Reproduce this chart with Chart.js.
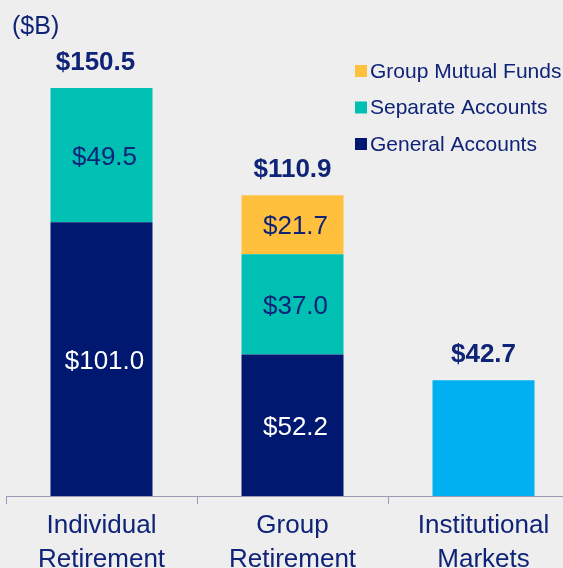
<!DOCTYPE html>
<html>
<head>
<meta charset="utf-8">
<script src="https://cdn.jsdelivr.net/npm/chart.js@4/dist/chart.umd.min.js"></script>
<style>
  html, body { margin: 0; padding: 0; background: #eeeeee; overflow: hidden; }
  #wrap { width: 585px; height: 568px; }
</style>
</head>
<body>
<div id="wrap"><canvas id="grafico" width="585" height="568"></canvas></div>
<script>
// datos ($B)
const categorias = [['Individual', 'Retirement'], ['Group', 'Retirement'], ['Institutional', 'Markets']];
const generalAccounts = [101.0, 52.2, null];
const separateAccounts = [49.5, 37.0, null];
const groupMutualFunds = [null, 21.7, null];
const institutionalMarkets = [null, null, 42.7];
const totales = [150.5, 110.9, 42.7];

const AZUL = '#0f2377';
const FUENTE = "'Liberation Sans', Arial, sans-serif";

const colores = {
    general: '#00186f',
    separate: '#00bfb3',
    mutual: '#ffc13d',
    institutional: '#00b0f0'
};

// etiquetas dentro de las barras y totales arriba
const etiquetasPlugin = {
    id: 'etiquetas',
    afterDatasetsDraw(chart) {
        const ctx = chart.ctx;
        ctx.save();
        ctx.textAlign = 'center';
        ctx.textBaseline = 'alphabetic';
        ctx.font = '26px ' + FUENTE;
        chart.data.datasets.forEach((ds, di) => {
            if (ds.sinEtiqueta) return;
            const meta = chart.getDatasetMeta(di);
            meta.data.forEach((bar, i) => {
                const v = ds.data[i];
                if (v == null) return;
                const centro = (bar.y + bar.base) / 2;
                ctx.fillStyle = ds.colorTexto;
                ctx.fillText('$' + v.toFixed(1), bar.x + 3, centro + 9.5);
            });
        });

        ctx.font = 'bold 26px ' + FUENTE;
        ctx.fillStyle = AZUL;
        totales.forEach((t, i) => {
            const x = chart.scales.x.getPixelForValue(i);
            const y = chart.scales.y.getPixelForValue(t);
            ctx.fillText('$' + t.toFixed(1), x - (i === 0 ? 6 : 0), y - 18);
        });
        ctx.restore();
    },
    afterDraw(chart) {
        const ctx = chart.ctx;
        ctx.save();
        // unidad
        ctx.font = '25px ' + FUENTE;
        ctx.fillStyle = AZUL;
        ctx.textAlign = 'left';
        ctx.textBaseline = 'alphabetic';
        ctx.fillText('($B)', 12, 34);

        // leyenda (orden invertido, sin Institutional)
        const items = chart.data.datasets.filter(d => !d.sinLeyenda).reverse();
        ctx.font = '21px ' + FUENTE;
        ctx.textBaseline = 'middle';
        items.forEach((d, i) => {
            const yc = 71 + i * 36.5;
            ctx.fillStyle = d.backgroundColor;
            ctx.fillRect(355, yc - 6, 12, 12);
            ctx.fillStyle = AZUL;
            ctx.fillText(d.label, 370, yc + 1);
        });
        ctx.restore();
    }
};

const ctx = document.getElementById('grafico').getContext('2d');
const grafico = new Chart(ctx, {
    type: 'bar',
    data: {
        labels: categorias,
        datasets: [
            { label: 'General Accounts', data: generalAccounts, backgroundColor: colores.general, colorTexto: '#ffffff' },
            { label: 'Separate Accounts', data: separateAccounts, backgroundColor: colores.separate, colorTexto: AZUL },
            { label: 'Group Mutual Funds', data: groupMutualFunds, backgroundColor: colores.mutual, colorTexto: AZUL },
            { label: 'Institutional Markets', data: institutionalMarkets, backgroundColor: colores.institutional, sinLeyenda: true, sinEtiqueta: true }
        ]
    },
    options: {
        responsive: false,
        animation: false,
        layout: { padding: { top: 8, left: 6, right: 6, bottom: 0 } },
        datasets: {
            bar: { barPercentage: 0.534, categoryPercentage: 1, borderWidth: 0 }
        },
        plugins: {
            legend: { display: false },
            tooltip: { enabled: false }
        },
        scales: {
            x: {
                stacked: true,
                afterFit(scale) { scale.height = 72; },
                grid: {
                    display: true,
                    drawOnChartArea: false,
                    offset: true,
                    tickLength: 8,
                    color: '#9a9ab6'
                },
                border: { display: true, color: '#9a9ab6', width: 1 },
                ticks: {
                    color: AZUL,
                    padding: 5,
                    font: { family: FUENTE, size: 26, lineHeight: 1.3 }
                }
            },
            y: {
                stacked: true,
                display: false,
                min: 0,
                max: 180
            }
        }
    },
    plugins: [etiquetasPlugin]
});
</script>
</body>
</html>
